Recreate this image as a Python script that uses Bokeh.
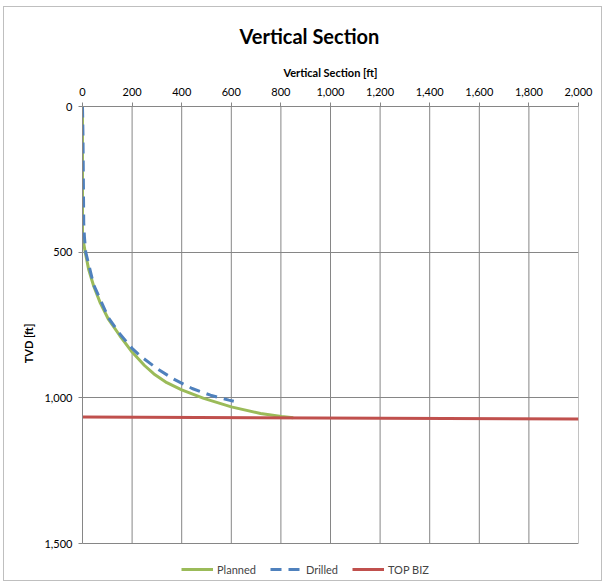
from bokeh.plotting import figure
from bokeh.models import Range1d, FixedTicker, NumeralTickFormatter, Legend, LegendItem
from bokeh.embed import file_html
from bokeh.resources import INLINE

# ---- data ----
planned_vs = [0, 0, 3, 11, 25, 45, 72, 105, 150, 200, 250, 288, 340, 400, 489, 600, 718, 802, 850]
planned_tvd = [0, 430, 460, 500, 560, 616, 675, 731, 786, 843, 889, 918, 948, 973, 1002, 1031, 1054, 1064, 1068]

drilled_vs = [0, 2, 3, 4, 5, 8, 13, 45, 105, 150, 200, 234, 301, 368, 442, 516, 590, 610]
drilled_tvd = [0, 100, 200, 300, 400, 450, 500, 612, 726, 780, 830, 857, 900, 936, 968, 991, 1008, 1012]

topbiz_vs = [0, 2000]
topbiz_tvd = [1066, 1073]

x_ticks = [0, 200, 400, 600, 800, 1000, 1200, 1400, 1600, 1800, 2000]
y_ticks = [0, 500, 1000, 1500]

FONT = "Lato"
GRID = "#868686"

# the frame reaches below the 1,500 line so the legend can sit inside it
Y_MAX = y_ticks[-1]
Y_VIEW = 1627

p = figure(frame_width=496, frame_height=474, output_backend="svg", toolbar_location=None,
           x_axis_location="above",
           x_range=Range1d(x_ticks[0], x_ticks[-1]), y_range=Range1d(Y_VIEW, 0),
           min_border_left=78, min_border_top=0, min_border_right=23, min_border_bottom=0)
p.margin = (6, 0, 0, 3)
p.styles = {"border": "1px solid #bfbfbf"}

p.title.text = "Vertical Section"
p.title.text_font = FONT
p.title.text_font_size = "20px"
p.title.text_font_style = "bold"
p.title.text_color = "#000000"
p.title.align = "left"
p.title.offset = 144
p.title.padding = (13, 0, 0, 0)
p.title.standoff = 29

p.background_fill_color = "white"
p.border_fill_color = "white"
p.outline_line_color = None

# axes
xa = p.xaxis[0]
xa.ticker = FixedTicker(ticks=x_ticks)
xa.formatter = NumeralTickFormatter(format="0,0")
xa.axis_label = "Vertical Section [ft]"
ya = p.yaxis[0]
ya.ticker = FixedTicker(ticks=y_ticks)
ya.formatter = NumeralTickFormatter(format="0,0")
ya.axis_label = "TVD [ft]"
ya.bounds = (0, Y_MAX)
for ax in (xa, ya):
    ax.axis_line_color = GRID
    ax.major_tick_line_color = GRID
    ax.major_tick_in = 0
    ax.major_tick_out = 4
    ax.minor_tick_line_color = None
    ax.major_label_text_font = FONT
    ax.major_label_text_font_size = "11px"
    ax.major_label_text_color = "#000000"
    ax.axis_label_text_font = FONT
    ax.axis_label_text_font_size = "11px"
    ax.axis_label_text_font_style = "bold"
    ax.axis_label_text_color = "#000000"
xa.major_label_standoff = 7
xa.axis_label_standoff = 6
ya.major_label_standoff = 6
ya.axis_label_standoff = 6
ya.axis_label_text_align = "center"

# horizontal grid (500, 1000 and the 1,500 bottom line)
p.ygrid.ticker = FixedTicker(ticks=y_ticks)
p.ygrid.grid_line_color = GRID
# vertical grid lines stop at the 1,500 line
p.xgrid.grid_line_color = None
p.segment(x0=x_ticks, y0=[0] * len(x_ticks), x1=x_ticks, y1=[Y_MAX] * len(x_ticks),
          line_color=GRID, line_width=1)

r1 = p.line(planned_vs, planned_tvd, line_color="#9BBB59", line_width=3)
r2 = p.line(drilled_vs, drilled_tvd, line_color="#4F81BD", line_width=3, line_dash="11 7")
r3 = p.line(topbiz_vs, topbiz_tvd, line_color="#C0504D", line_width=3)

legend = Legend(items=[LegendItem(label="Planned", renderers=[r1]),
                       LegendItem(label="Drilled", renderers=[r2]),
                       LegendItem(label="TOP BIZ", renderers=[r3])],
                orientation="horizontal", location=(99, 4),
                label_text_font=FONT, label_text_font_size="11px",
                glyph_width=32, glyph_height=14, label_height=14, label_standoff=4, spacing=14,
                padding=0, margin=0, border_line_color=None,
                background_fill_alpha=0)
p.add_layout(legend, "center")

open("out.html", "w").write(file_html(p, INLINE))
